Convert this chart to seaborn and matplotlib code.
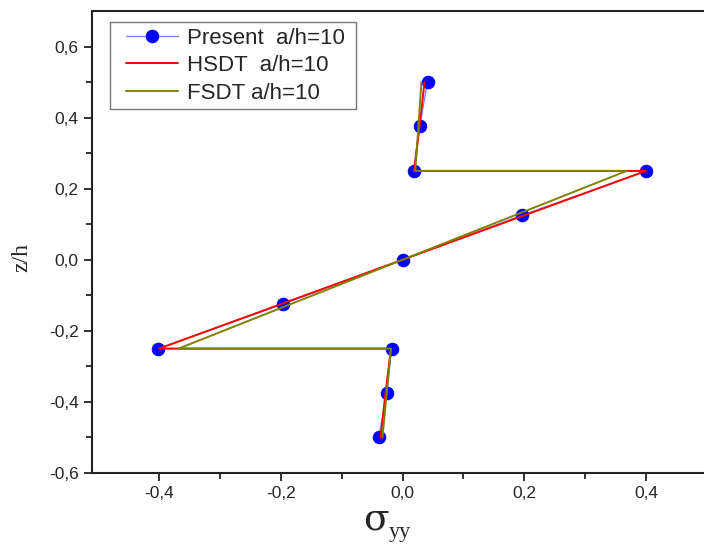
import matplotlib
matplotlib.use("Agg")
import matplotlib.pyplot as plt
import matplotlib.ticker as mticker
from matplotlib.lines import Line2D
from matplotlib.legend_handler import HandlerLine2D
import seaborn as sns
import pandas as pd

z = [0.5, 0.375, 0.25, 0.25, 0.125, 0.0, -0.125, -0.25, -0.25, -0.375, -0.5]
present = [0.041, 0.028, 0.018, 0.400, 0.196, 0.0, -0.197, -0.401, -0.018, -0.026, -0.039]
hsdt = [0.036, 0.028, 0.019, 0.400, 0.200, 0.0, -0.200, -0.400, -0.019, -0.028, -0.036]
fsdt = [0.031, 0.026, 0.021, 0.368, 0.184, 0.0, -0.184, -0.368, -0.019, -0.026, -0.033]

labels = ["Present  a/h=10", "HSDT  a/h=10", "FSDT a/h=10"]

sns.set_style("ticks")
plt.rcParams["font.family"] = ["Liberation Sans", "DejaVu Sans"]

W, H = 704, 544
fig = plt.figure(figsize=(W / 100, H / 100), dpi=100)
ax = fig.add_axes([92 / W, 71 / H, 615 / W, 462 / H])

df_p = pd.DataFrame({"x": present, "z": z})
df_h = pd.DataFrame({"x": hsdt, "z": z})
df_f = pd.DataFrame({"x": fsdt, "z": z})

sns.lineplot(data=df_p, x="x", y="z", sort=False, estimator=None, ax=ax,
             color="#8080ff", lw=1.0, marker="o", markersize=9,
             markerfacecolor="#0000ff", markeredgecolor="#0000ff", label=labels[0], zorder=2)
sns.lineplot(data=df_h, x="x", y="z", sort=False, estimator=None, ax=ax,
             color="#ff0000", lw=1.4, label=labels[1], zorder=3)
sns.lineplot(data=df_f, x="x", y="z", sort=False, estimator=None, ax=ax,
             color="#808000", lw=1.4, label=labels[2], zorder=4)

ax.set_xlim(-0.51, 0.5)
ax.set_ylim(-0.6, 0.7)
ax.xaxis.set_major_locator(mticker.FixedLocator([-0.4, -0.2, 0.0, 0.2, 0.4]))
ax.xaxis.set_minor_locator(mticker.FixedLocator([-0.3, -0.1, 0.1, 0.3]))
ax.yaxis.set_major_locator(mticker.FixedLocator([-0.6, -0.4, -0.2, 0.0, 0.2, 0.4, 0.6]))
ax.yaxis.set_minor_locator(mticker.FixedLocator([-0.5, -0.3, -0.1, 0.1, 0.3, 0.5]))
fmt = mticker.FuncFormatter(lambda v, p: ("%.1f" % v).replace(".", ",").replace("-0,0", "0,0"))
ax.xaxis.set_major_formatter(fmt)
ax.yaxis.set_major_formatter(fmt)

ax.tick_params(which="major", direction="out", length=6, width=1.3, labelsize=12.5, color="#222222")
ax.tick_params(which="minor", direction="out", length=4, width=1.3, color="#222222")
for s in ["left", "bottom", "top"]:
    ax.spines[s].set_linewidth(1.5)
    ax.spines[s].set_color("#222222")
ax.spines["right"].set_visible(False)

ax.set_xlabel("")
ax.set_ylabel("")
fig.text(363 / W, 1 - 530 / H, "\u03c3", fontsize=27, family="DejaVu Serif", ha="left", va="baseline")
fig.text(389 / W, 1 - 537 / H, "yy", fontsize=16, family="Liberation Serif", ha="left", va="baseline")
fig.text(22 / W, 1 - 257 / H, "z/h", fontsize=17, family="Liberation Serif",
         rotation=90, ha="center", va="center")

handles, labs = ax.get_legend_handles_labels()
labs = [l + " " for l in labs]
leg = ax.legend(handles, labs, loc="upper left", bbox_to_anchor=(18 / 615, 1 - 11 / 462), fontsize=16,
                frameon=True, fancybox=False, edgecolor="#555555", handlelength=2.8,
                labelspacing=0.3, borderpad=0.25, handletextpad=0.4, borderaxespad=0,
                handler_map={Line2D: HandlerLine2D(xpad=0.45)})
leg.get_frame().set_linewidth(1.0)

fig.savefig("out.png", dpi=100)
